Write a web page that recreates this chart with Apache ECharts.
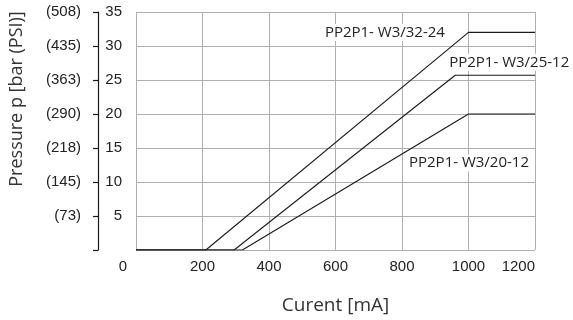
<!DOCTYPE html>
<html>
<head>
<meta charset="utf-8">
<script src="https://cdn.jsdelivr.net/npm/echarts@6/dist/echarts.min.js"></script>
<style>
  html, body { margin: 0; padding: 0; background: #fff; }
  #chart { width: 573px; height: 320px; }
</style>
</head>
<body>
<div id="chart"></div>
<script>
// valve curves: [current mA, pressure bar]
const curve3224 = [[0, 0], [210, 0], [1000, 32], [1200, 32]]
const curve2512 = [[0, 0], [295, 0], [960, 25.7], [1200, 25.7]]
const curve2012 = [[0, 0], [320, 0], [1000, 20], [1200, 20]]

const curveNames = ['PP2P1- W3/32-24', 'PP2P1- W3/25-12', 'PP2P1- W3/20-12']
// where each name sits, in data units
const nameAnchors = [[935, 32], [936, 27.6], [815, 12.8]]
const nameSides = ['left', 'right', 'right']

const psiLabels = ['', '(73)', '(145)', '(218)', '(290)', '(363)', '(435)', '(508)']

const tickFont = "'Liberation Sans', Arial, sans-serif"
const textFont = "'Open Sans', 'Noto Sans', sans-serif"
const gridColor = '#b0b0b0'

function makeSeries (data, idx) {
  return {
    name: curveNames[idx],
    type: 'line',
    data: data,
    symbol: 'none',
    lineStyle: { color: '#1a1a1a', width: 1.1 },
    markPoint: {
      symbol: 'circle',
      symbolSize: 0,
      data: [{
        coord: nameAnchors[idx],
        label: {
          show: true,
          formatter: curveNames[idx],
          position: nameSides[idx],
          distance: 0,
          fontFamily: textFont,
          fontSize: 15,
          color: '#222',
          backgroundColor: '#fff',
          padding: [1, 2]
        }
      }]
    }
  }
}

const chart = echarts.init(document.getElementById('chart'))
chart.setOption({
  animation: false,
  grid: { left: 136, right: 38, top: 12, bottom: 69 },
  xAxis: {
    type: 'value',
    min: 0,
    max: 1200,
    interval: 200,
    name: 'Curent [mA]',
    nameLocation: 'middle',
    nameGap: 46,
    nameTextStyle: { fontFamily: textFont, fontSize: 19, color: '#333' },
    axisLine: { show: false },
    axisTick: { show: false },
    splitLine: { lineStyle: { color: gridColor, width: 1 } },
    axisLabel: {
      margin: 9,
      fontFamily: tickFont,
      fontSize: 15,
      color: '#222',
      alignMaxLabel: 'right',
      formatter: function (value) {
        return value === 0 ? '{z|0}' : String(value)
      },
      rich: {
        z: { fontFamily: tickFont, fontSize: 15, color: '#222', padding: [0, 26, 0, 0] }
      }
    }
  },
  yAxis: [
    {
      type: 'value',
      min: 0,
      max: 35,
      interval: 5,
      axisLine: { show: false },
      axisTick: { show: false },
      splitLine: { lineStyle: { color: gridColor, width: 1 } },
      axisLabel: {
        showMinLabel: false,
        margin: 14,
        fontFamily: tickFont,
        fontSize: 15,
        color: '#222'
      }
    },
    {
      type: 'value',
      position: 'left',
      offset: 38,
      min: 0,
      max: 35,
      interval: 5,
      name: 'Pressure p [bar (PSI)]',
      nameLocation: 'middle',
      nameGap: 72,
      nameTextStyle: {
        fontFamily: textFont,
        fontSize: 18,
        color: '#333',
        padding: [0, 0, 0, 64]
      },
      axisLine: { show: true, lineStyle: { color: '#1a1a1a', width: 1.2 } },
      axisTick: { show: true, inside: false, length: 5, lineStyle: { color: '#1a1a1a', width: 1.2 } },
      splitLine: { show: false },
      axisLabel: {
        margin: 17,
        fontFamily: tickFont,
        fontSize: 15,
        color: '#222',
        formatter: function (value) {
          return psiLabels[Math.round(value / 5)]
        }
      }
    }
  ],
  series: [
    makeSeries(curve3224, 0),
    makeSeries(curve2512, 1),
    makeSeries(curve2012, 2)
  ]
})
</script>
</body>
</html>
